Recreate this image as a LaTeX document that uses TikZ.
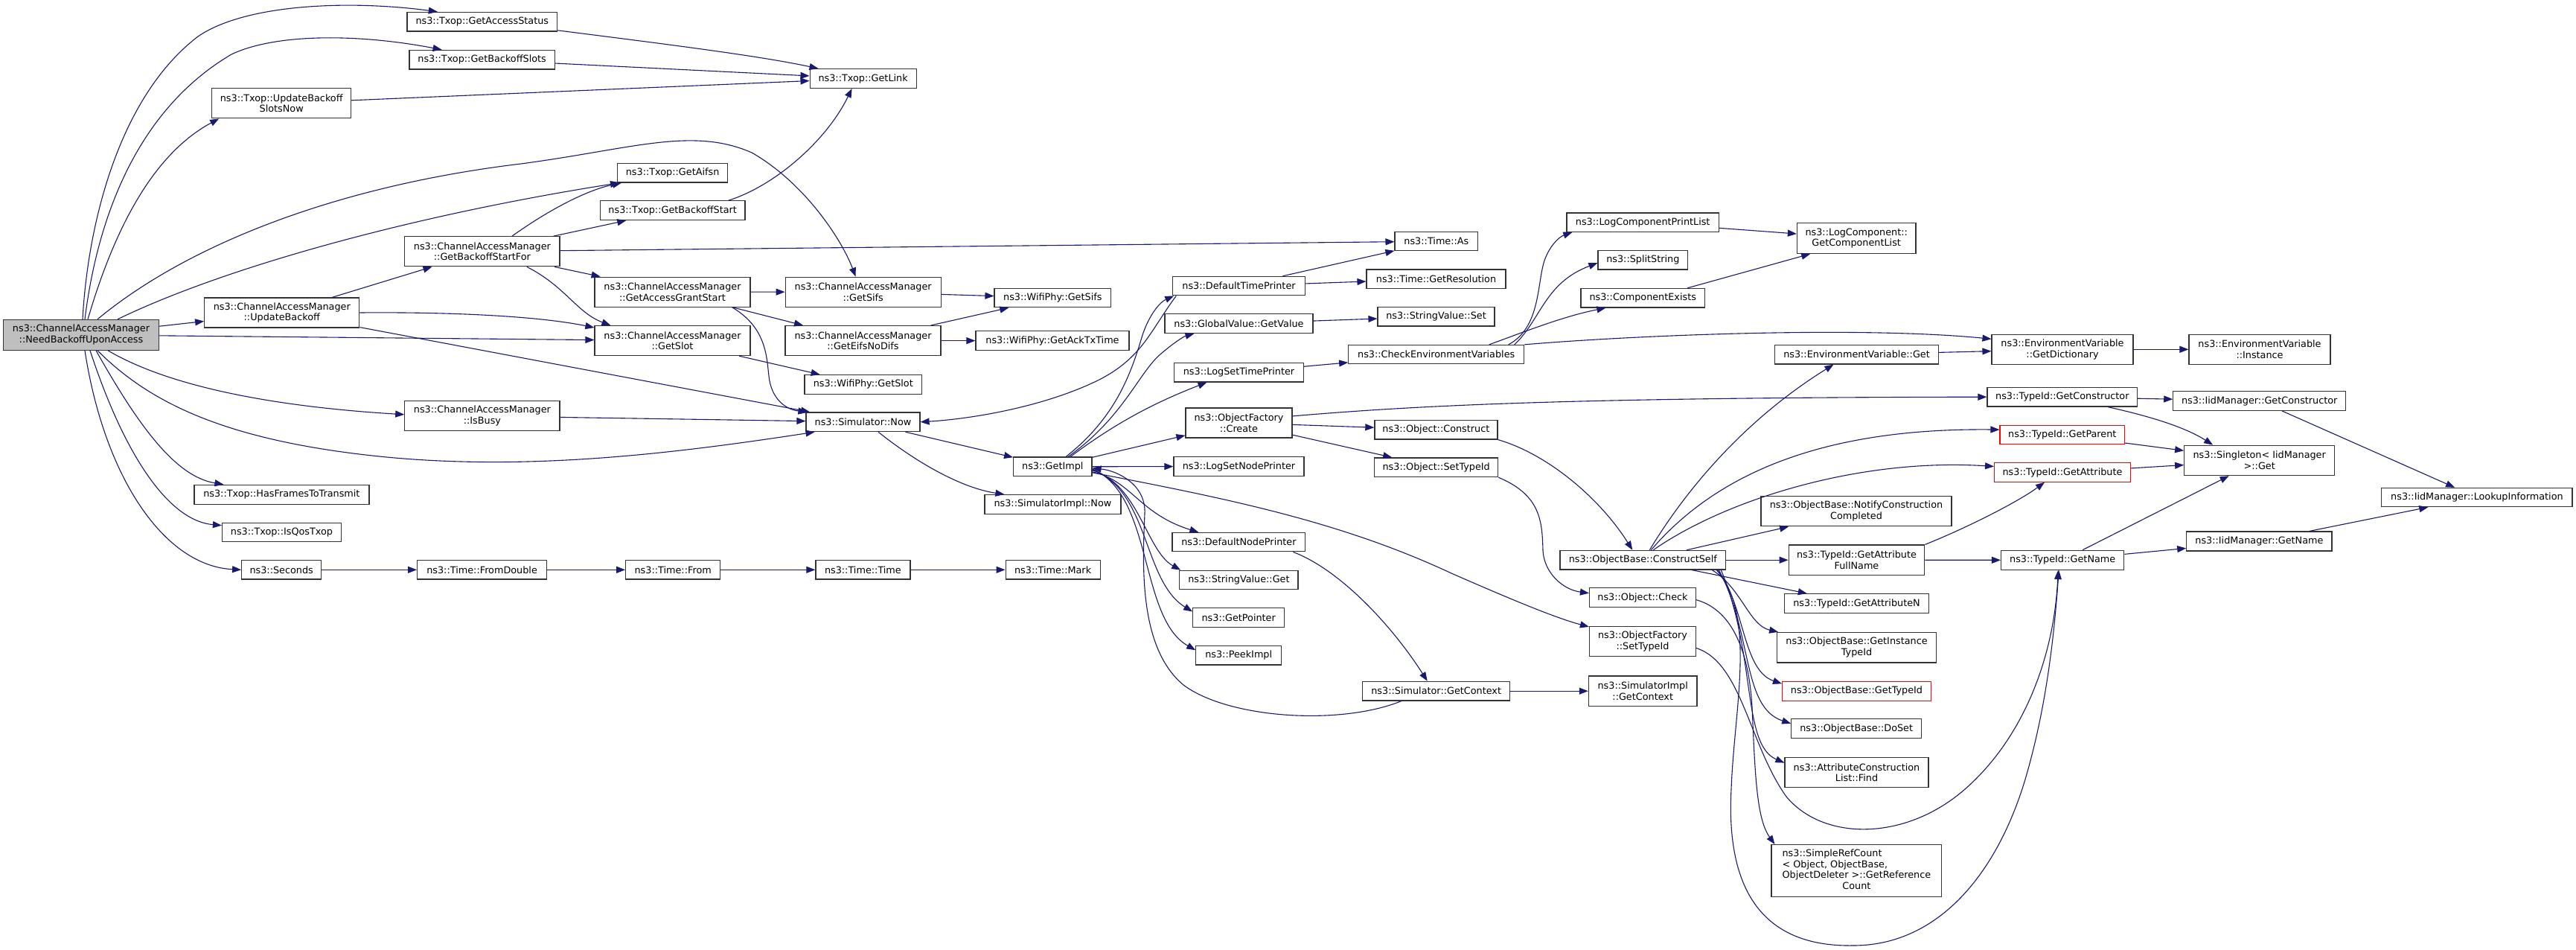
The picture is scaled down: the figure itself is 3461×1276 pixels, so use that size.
\documentclass[tikz,border=0pt]{standalone}
\usepackage{fontspec}
\setmainfont{DejaVu Sans}
\usetikzlibrary{arrows.meta}
\definecolor{edgec}{HTML}{191970}
\definecolor{nodeb}{HTML}{333333}
\definecolor{rootf}{HTML}{BFBFBF}
\tikzset{
 fn/.style={draw=nodeb, line width=1.2pt, fill=white, inner sep=0pt, align=center, font=\fontsize{12.8}{14.7}\selectfont},
 rn/.style={fn, draw=red},
 e/.style={draw=edgec, line width=1.1pt, -{Triangle[length=12pt,width=9pt]}}
}
\newcommand{\nd}[6][]{\node[fn,#1,minimum width=#4pt,minimum height=#5pt] (#2) at (#3) {#6};}
\begin{document}
\begin{tikzpicture}[x=1pt,y=-1pt]
\useasboundingbox (0,0) rectangle (3461,1276);
\fill[white] (0,0) rectangle (3461,1276);
% nodes
\nd[fill=rootf]{N}{109,449.8}{209}{40.8}{ns3::ChannelAccessManager\\::NeedBackoffUponAccess}
\nd{GAS}{647.8,29.2}{201.6}{25.7}{ns3::Txop::GetAccessStatus}
\nd{GBS}{647.6,80.2}{195.3}{25.7}{ns3::Txop::GetBackoffSlots}
\nd{UBSN}{378.2,138.8}{187}{40}{ns3::Txop::UpdateBackoff\\SlotsNow}
\nd{BSF}{647.9,337.8}{208.2}{40}{ns3::ChannelAccessManager\\::GetBackoffStartFor}
\nd{UB}{378.8,420}{208.1}{40}{ns3::ChannelAccessManager\\::UpdateBackoff}
\nd{ISB}{647.9,558.8}{208.2}{40}{ns3::ChannelAccessManager\\::IsBusy}
\nd{AIFSN}{903.6,232.3}{148}{25.5}{ns3::Txop::GetAifsn}
\nd{GBST}{903.7,282.7}{194.7}{25.7}{ns3::Txop::GetBackoffStart}
\nd{AGS}{903.5,392.1}{209}{40}{ns3::ChannelAccessManager\\::GetAccessGrantStart}
\nd{CSLOT}{903.5,457.6}{209}{40}{ns3::ChannelAccessManager\\::GetSlot}
\nd{HFT}{378.4,664.3}{235}{26}{ns3::Txop::HasFramesToTransmit}
\nd{QOS}{378.5,715}{160}{25.5}{ns3::Txop::IsQosTxop}
\nd{SEC}{378.2,765.3}{107}{25.5}{ns3::Seconds}
\nd{FD}{647.6,765.3}{174}{25.5}{ns3::Time::FromDouble}
\nd{FROM}{904.2,765.3}{127}{25.5}{ns3::Time::From}
\nd{TIME}{1159.4,765.3}{127}{25.5}{ns3::Time::Time}
\nd{MARK}{1414.6,765.3}{127}{25.5}{ns3::Time::Mark}
\nd{LINK}{1159.6,105.5}{143}{25.7}{ns3::Txop::GetLink}
\nd{CSIFS}{1159.7,392.2}{209}{40}{ns3::ChannelAccessManager\\::GetSifs}
\nd{WSIFS}{1414.3,400}{156.6}{25.5}{ns3::WifiPhy::GetSifs}
\nd{EIFS}{1159.5,457.6}{209}{40}{ns3::ChannelAccessManager\\::GetEifsNoDifs}
\nd{ACK}{1414,457.6}{206}{25.5}{ns3::WifiPhy::GetAckTxTime}
\nd{WSLOT}{1159.8,516.4}{157.5}{25.5}{ns3::WifiPhy::GetSlot}
\nd{NOW}{1159.5,566.8}{153}{25.7}{ns3::Simulator::Now}
\nd{IMPL}{1414.3,626.8}{105.4}{25.8}{ns3::GetImpl}
\nd{SINOW}{1414.4,677.4}{183}{25.5}{ns3::SimulatorImpl::Now}
\nd{DTP}{1664.5,384.1}{177.4}{25.5}{ns3::DefaultTimePrinter}
\nd{AS}{1929.9,324.1}{111.7}{25.5}{ns3::Time::As}
\nd{RES}{1929.5,374.7}{187}{25.5}{ns3::Time::GetResolution}
\nd{GV}{1664.5,434.6}{199}{25.7}{ns3::GlobalValue::GetValue}
\nd{SVSET}{1929.5,425.2}{157}{25.5}{ns3::StringValue::Set}
\nd{LSTP}{1664.5,500.2}{174}{25.5}{ns3::LogSetTimePrinter}
\nd{CEV}{1929.7,476.1}{236}{25.3}{ns3::CheckEnvironmentVariables}
\nd{LCPL}{2207.2,298.7}{204.5}{25.5}{ns3::LogComponentPrintList}
\nd{SPLIT}{2207.3,349.2}{120.6}{25.7}{ns3::SplitString}
\nd{CEX}{2207.2,400.2}{166.5}{25.5}{ns3::ComponentExists}
\nd{GCL}{2494.2,320}{159.5}{40.8}{ns3::LogComponent::\\GetComponentList}
\nd{OFC}{1664.5,567.9}{143}{40}{ns3::ObjectFactory\\::Create}
\nd{OCON}{1929.4,577.1}{165}{25.7}{ns3::Object::Construct}
\nd{OSET}{1929.7,627.8}{166}{25.7}{ns3::Object::SetTypeId}
\nd{LSNP}{1664.5,626.5}{175}{25.7}{ns3::LogSetNodePrinter}
\nd{DNP}{1664.4,728.2}{178.8}{25.3}{ns3::DefaultNodePrinter}
\nd{SVGET}{1664.4,778.9}{159.3}{25.3}{ns3::StringValue::Get}
\nd{GPTR}{1664.2,829.5}{123}{25.4}{ns3::GetPointer}
\nd{PEEK}{1664.2,880.2}{114.8}{25.6}{ns3::PeekImpl}
\nd{SGC}{1929.7,928.2}{198}{25.7}{ns3::Simulator::GetContext}
\nd{SIGC}{2207.2,928.2}{145.6}{40.3}{ns3::SimulatorImpl\\::GetContext}
\nd{CHECK}{2207,802.7}{143}{26}{ns3::Object::Check}
\nd{OFST}{2207,861.5}{143}{40}{ns3::ObjectFactory\\::SetTypeId}
\nd{CS}{2207.3,752.2}{222.7}{25.7}{ns3::ObjectBase::ConstructSelf}
\nd{EVGET}{2494.5,476.1}{219.7}{25.8}{ns3::EnvironmentVariable::Get}
\nd{GDICT}{2771,469.3}{190}{40}{ns3::EnvironmentVariable\\::GetDictionary}
\nd{INST}{3036,469.3}{190}{40}{ns3::EnvironmentVariable\\::Instance}
\nd{TGC}{2770.8,533.2}{201.6}{25.6}{ns3::TypeId::GetConstructor}
\nd{IGC}{3035.7,538.5}{231.8}{25.7}{ns3::IidManager::GetConstructor}
\nd[draw=red]{GPAR}{2770.8,584.1}{167.6}{25.4}{ns3::TypeId::GetParent}
\nd[draw=red]{GATT}{2771,634.5}{182.8}{25.3}{ns3::TypeId::GetAttribute}
\nd{SING}{3035.7,618.4}{202}{40.4}{ns3::Singleton< IidManager\\ >::Get}
\nd{LOOK}{3327.9,668}{256.2}{25.3}{ns3::IidManager::LookupInformation}
\nd{NCC}{2494,686.6}{256}{40.4}{ns3::ObjectBase::NotifyConstruction\\Completed}
\nd{GAFN}{2494.5,752.2}{182.6}{40.4}{ns3::TypeId::GetAttribute\\FullName}
\nd{TGN}{2771.2,752.3}{165.3}{26}{ns3::TypeId::GetName}
\nd{IGN}{3035.4,727}{195.3}{26}{ns3::IidManager::GetName}
\nd{GAN}{2494.5,810.7}{194}{26}{ns3::TypeId::GetAttributeN}
\nd{GITI}{2494.5,869.7}{213.6}{40.5}{ns3::ObjectBase::GetInstance\\TypeId}
\nd[draw=red]{GTID}{2494.5,928.3}{199.8}{26}{ns3::ObjectBase::GetTypeId}
\nd{DOSET}{2494.2,978.8}{175}{26}{ns3::ObjectBase::DoSet}
\nd{FIND}{2494.5,1037.6}{193}{40.4}{ns3::AttributeConstruction\\List::Find}
\nd{SRC}{2494.4,1169.5}{228.7}{69.8}{\begin{tabular}{@{}l@{}}ns3::SimpleRefCount\\< Object, ObjectBase,\\ObjectDeleter >::GetReference\\\multicolumn{1}{@{}c@{}}{Count}\end{tabular}}
% edges from root
\draw[e] ([xshift=2pt]N.north) .. controls (118,300) and (160,130) .. (266,49) .. controls (330,5) and (470,0) .. ([xshift=-60pt]GAS.north);
\draw[e] ([xshift=5pt]N.north) .. controls (130,300) and (180,150) .. (311,73) .. controls (370,45) and (480,45) .. ([xshift=-54pt]GBS.north);
\draw[e] ([xshift=9pt]N.north) .. controls (150,320) and (200,210) .. ([xshift=-84pt]UBSN.south);
\draw[e] ([xshift=22pt]N.north) .. controls (250,330) and (450,250) .. (700,220) .. controls (850,200) and (930,170) .. (1010,205) .. controls (1080,245) and (1130,320) .. ([xshift=-10pt]CSIFS.north);
\draw[e] ([xshift=49pt]N.north) .. controls (300,360) and (550,290) .. ([xshift=3pt]AIFSN.south west);
\draw[e] (N) -- (UB);
\draw[e] (N) -- (CSLOT);
\draw[e] ([xshift=22pt]N.south) .. controls (200,540) and (300,590) .. (500,612) .. controls (700,634) and (900,610) .. ([xshift=-65pt]NOW.south);
\draw[e] ([xshift=36pt]N.south) .. controls (220,515) and (350,545) .. ([yshift=2pt]ISB.west);
\draw[e] ([xshift=20pt]N.south) .. controls (185,570) and (235,640) .. ([xshift=-78pt]HFT.north);
\draw[e] ([xshift=12pt]N.south) .. controls (170,620) and (230,700) .. ([yshift=-4pt]QOS.north west);
\draw[e] ([xshift=5pt]N.south) .. controls (140,640) and (220,760) .. (SEC.west);
% chain
\draw[e] (SEC) -- (FD);
\draw[e] (FD) -- (FROM);
\draw[e] (FROM) -- (TIME);
\draw[e] (TIME) -- (MARK);
% Txop
\draw[e] (UBSN) -- (LINK);
\draw[e] ([yshift=-11.6pt]GAS.east) .. controls (900,60) and (1020,75) .. ([xshift=12pt]LINK.north west);
\draw[e] (GBS) -- (LINK);
\draw[e] ([xshift=-23pt]GBST.north east) .. controls (1040,250) and (1110,190) .. ([xshift=-15pt]LINK.south);
% UpdateBackoff
\draw[e] (UB) -- (BSF);
\draw[e] (UB.east) .. controls (600,419) and (720,424) .. ([yshift=-3pt]CSLOT.north west);
\draw[e] (UB) -- (NOW);
% BackoffStartFor
\draw[e] ([xshift=40pt]BSF.north) .. controls (740,280) and (790,255) .. ([xshift=6pt]AIFSN.south west);
\draw[e] (BSF) -- (GBST);
\draw[e] (BSF) -- (AS);
\draw[e] (BSF) -- (AGS);
\draw[e] ([xshift=60pt]BSF.south) .. controls (760,385) and (775,420) .. ([xshift=22pt]CSLOT.north west);
% AccessGrantStart
\draw[e] (AGS) -- (CSIFS);
\draw[e] (AGS) -- (EIFS);
\draw[e] ([xshift=80pt]AGS.south) .. controls (1030,440) and (1030,480) .. (1033,505) .. controls (1036,535) and (1055,550) .. ([xshift=2pt]NOW.north west);
\draw[e] (CSIFS) -- (WSIFS);
\draw[e] (EIFS) -- (WSIFS);
\draw[e] (EIFS) -- (ACK);
\draw[e] (CSLOT) -- (WSLOT);
\draw[e] (ISB) -- (NOW);
% Now
\draw[e] (NOW) -- (IMPL);
\draw[e] ([xshift=20.5pt]NOW.south) .. controls (1230,620) and (1290,655) .. ([xshift=-65pt]SINOW.north);
\draw[e] ([xshift=5pt]DTP.south west) .. controls (1545,445) and (1535,480) .. (1477,510) .. controls (1400,548) and (1300,563) .. (NOW.east);
% GetImpl
\draw[e] ([xshift=18pt]IMPL.north) .. controls (1500,560) and (1520,500) .. (1535,450) .. controls (1545,420) and (1560,405) .. ([xshift=2pt]DTP.south west);
\draw[e] ([xshift=21pt]IMPL.north) .. controls (1510,560) and (1530,500) .. (1560,475) .. controls (1575,462) and (1590,452) .. ([xshift=-60pt]GV.south);
\draw[e] ([xshift=24pt]IMPL.north) .. controls (1490,575) and (1540,545) .. ([xshift=-43pt]LSTP.south);
\draw[e] (IMPL) -- (OFC);
\draw[e] (IMPL) -- (LSNP);
\draw[e] ([yshift=-7pt]IMPL.east) .. controls (1520,645) and (1530,690) .. ([xshift=-54pt]DNP.north);
\draw[e] ([yshift=-5pt]IMPL.east) .. controls (1530,650) and (1540,740) .. ([xshift=2pt]SVGET.north west);
\draw[e] ([yshift=-4pt]IMPL.east) .. controls (1545,660) and (1535,780) .. ([yshift=8pt]GPTR.west);
\draw[e] ([yshift=-3pt]IMPL.east) .. controls (1550,665) and (1530,830) .. ([yshift=7pt]PEEK.west);
\draw[e] ([xshift=-47pt]SGC.south) .. controls (1800,975) and (1650,965) .. (1590,920) .. controls (1530,870) and (1535,760) .. (1538,690) .. controls (1540,650) and (1500,632) .. ([yshift=-2pt]IMPL.east);
\draw[e] ([yshift=-8pt]IMPL.east) .. controls (1650,670) and (1800,700) .. (1950,770) .. controls (2030,805) and (2090,830) .. ([yshift=-1pt]OFST.north west);
% printers
\draw[e] (DTP) -- (AS);
\draw[e] (DTP) -- (RES);
\draw[e] (GV) -- (SVSET);
\draw[e] (LSTP) -- (CEV);
% CheckEnvironmentVariables
\draw[e] ([xshift=97pt]CEV.north) .. controls (2070,440) and (2065,380) .. (2075,350) .. controls (2082,330) and (2095,318) .. ([xshift=8pt]LCPL.south west);
\draw[e] ([xshift=105pt]CEV.north) .. controls (2070,430) and (2075,380) .. ([yshift=-4pt]SPLIT.west);
\draw[e] ([xshift=71pt]CEV.north) .. controls (2050,445) and (2100,425) .. ([xshift=34pt]CEX.south west);
\draw[e] (CEV.north east) .. controls (2200,450) and (2500,438) .. ([yshift=14pt]GDICT.west);
\draw[e] (LCPL) -- (GCL);
\draw[e] ([xshift=60pt]CEX.north) -- ([xshift=-62pt]GCL.south);
\draw[e] (EVGET) -- (GDICT);
\draw[e] (GDICT) -- (INST);
% ObjectFactory::Create
\draw[e] ([yshift=9pt]OFC.east) .. controls (1900,545) and (2100,534) .. (TGC.west);
\draw[e] (OFC) -- (OCON);
\draw[e] (OFC) -- (OSET);
\draw[e] (OCON.south east) .. controls (2080,610) and (2150,670) .. ([xshift=-14pt]CS.north);
\draw[e] (OSET.south east) .. controls (2070,665) and (2072,700) .. (2073,740) .. controls (2075,770) and (2100,792) .. ([yshift=6pt]CHECK.west);
\draw[e] (SGC) -- (SIGC);
\draw[e] ([xshift=-17pt]DNP.south east) .. controls (1800,765) and (1870,840) .. ([xshift=-12pt]SGC.north);
\draw[e] ([yshift=-9pt]OFST.east) .. controls (2340,890) and (2350,1000) .. (2400,1070) .. controls (2450,1130) and (2560,1130) .. (2640,1060) .. controls (2720,990) and (2760,880) .. ([xshift=-6pt]TGN.south);
\draw[e] ([xshift=100pt]CS.south) .. controls (2360,830) and (2330,950) .. (2326,1060) .. controls (2318,1210) and (2380,1272) .. (2490,1270) .. controls (2600,1270) and (2680,1180) .. (2720,1050) .. controls (2750,950) and (2760,850) .. ([xshift=-5pt]TGN.south);
\draw[e] ([yshift=-3pt]CHECK.east) .. controls (2330,820) and (2350,880) .. (2354,950) .. controls (2358,1040) and (2360,1100) .. ([xshift=5pt]SRC.north west);
% ConstructSelf
\draw[e] (CS) -- (GAFN);
\draw[e] (CS) -- (GAN);
\draw[e] ([xshift=93pt]CS.south) .. controls (2340,790) and (2350,840) .. ([xshift=2pt]GITI.north west);
\draw[e] ([xshift=99pt]CS.south) .. controls (2345,810) and (2340,900) .. ([yshift=10pt]GTID.west);
\draw[e] ([xshift=102pt]CS.south) .. controls (2355,850) and (2340,950) .. ([yshift=7pt]DOSET.west);
\draw[e] ([xshift=105pt]CS.south) .. controls (2360,880) and (2340,1000) .. ([yshift=13pt]FIND.west);
\draw[e] (CS) -- (NCC);
\draw[e] ([xshift=9pt]CS.north) .. controls (2270,650) and (2350,560) .. ([xshift=-31pt]EVGET.south);
\draw[e] ([xshift=11pt]CS.north) .. controls (2320,620) and (2480,575) .. ([yshift=7pt]GPAR.west);
\draw[e] ([xshift=14pt]CS.north) .. controls (2320,670) and (2500,615) .. ([yshift=8pt]GATT.west);
% TypeId
\draw[e] (GAFN) -- (TGN);
\draw[e] (GAFN.north east) .. controls (2640,710) and (2710,675) .. ([xshift=-24pt]GATT.south);
\draw[e] (TGN) -- (IGN);
\draw[e] (TGN) -- (SING);
\draw[e] (IGN) -- (LOOK);
\draw[e] (TGC) -- (IGC);
\draw[e] ([xshift=61pt]TGC.south) .. controls (2870,555) and (2930,570) .. ([xshift=39pt]SING.north west);
\draw[e] (IGC) -- (LOOK);
\draw[e] (GPAR) -- (SING);
\draw[e] (GATT) -- (SING);
\end{tikzpicture}
\end{document}
